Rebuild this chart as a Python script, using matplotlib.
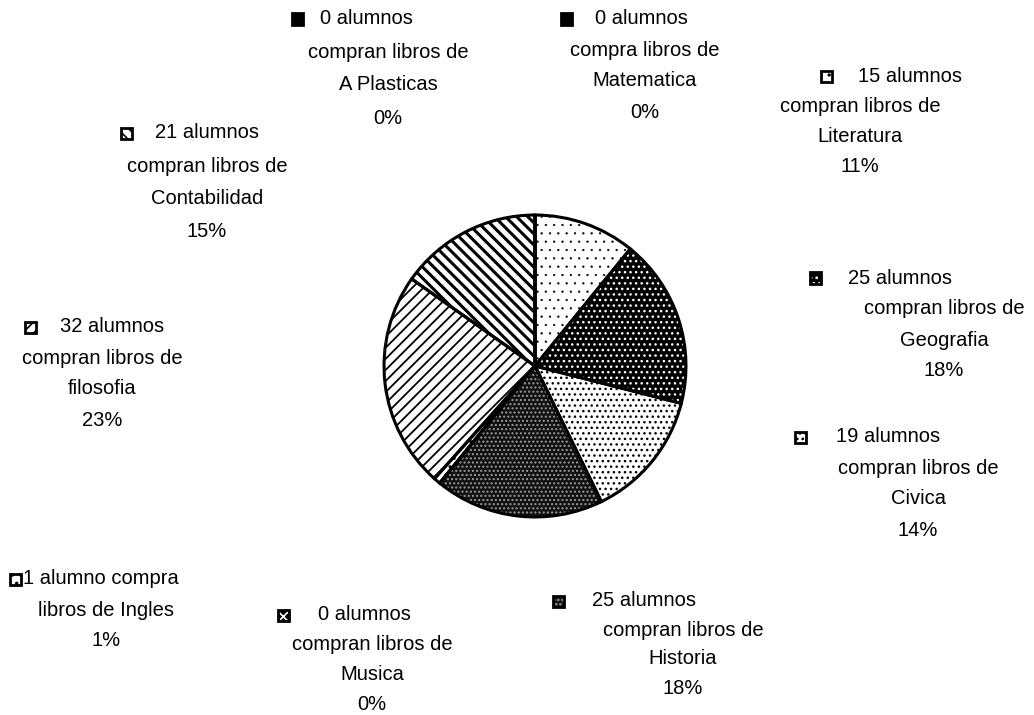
import matplotlib.pyplot as plt
from matplotlib.patches import Rectangle

plt.rcParams["font.family"] = ["Liberation Sans", "DejaVu Sans"]
plt.rcParams["hatch.linewidth"] = 1.2

# pie order: clockwise from 12 o'clock
subjects = ["Literatura", "Geografia", "Civica", "Historia", "Musica",
            "Ingles", "filosofia", "Contabilidad", "A Plasticas", "Matematica"]
alumnos = [15, 25, 19, 25, 0, 1, 32, 21, 0, 0]

faces = ["white", "black", "white", "#111111", "black",
         "white", "white", "white", "black", "black"]
hatch_cols = ["black", "white", "black", "#9a9a9a", "white",
              "black", "black", "black", "white", "white"]
hatches = ["..", "...", "...", "....", "x", "..", "///", "\\\\\\", "/", ""]
hatch_lw = [0.4, 1.0, 1.0, 1.0, 1.5, 1.0, 1.3, 2.2, 2.0, 1.0]

total = sum(alumnos)
pcts = [round(100 * a / total) for a in alumnos]


def label_lines(i):
    n, s, p = alumnos[i], subjects[i], pcts[i]
    if n == 1:
        return [f"{n} alumno compra", f"libros de {s}", f"{p}%"]
    verb = "compra" if s == "Matematica" else "compran"
    return [f"{n} alumnos", f"{verb} libros de", s, f"{p}%"]


# label layout in pixels: marker x, first-line text left, centre x, first-line y, line step
layout = {
    "Literatura":   (826, 858, 860, 76, 30),
    "Geografia":    (815, 848, 944, 278, 31),
    "Civica":       (800, 836, 918, 437, 31),
    "Historia":     (558, 592, 683, 601, 29),
    "Musica":       (283, 318, 372, 615, 30),
    "Ingles":       (15, 23, 106, 579, 31),
    "filosofia":    (30, 60, 102, 327, 31),
    "Contabilidad": (126, 155, 207, 133, 33),
    "A Plasticas":  (297, 320, 388, 19, 33),
    "Matematica":   (566, 595, 645, 19, 31),
}

W, H = 1034, 715
fig = plt.figure(figsize=(W / 100, H / 100), dpi=100)
fig.patch.set_facecolor("white")

cx, cy, r = 535, 366, 154
ax = fig.add_axes([(cx - r) / W, 1 - (cy + r) / H, 2 * r / W, 2 * r / H])
wedges, _ = ax.pie(alumnos, startangle=90, counterclock=False)
for w, fc, hc, h, hl in zip(wedges, faces, hatch_cols, hatches, hatch_lw):
    w.set_facecolor(fc)
    w.set_edgecolor(hc)
    w.set_hatch(h)
    w.set_linewidth(0)
    if hasattr(w, "set_hatch_linewidth"):
        w.set_hatch_linewidth(hl)
# outlines drawn on top
ax.pie(alumnos, startangle=90, counterclock=False,
       wedgeprops=dict(fill=False, edgecolor="black", linewidth=2.2))
ax.set_xlim(-1.02, 1.02)
ax.set_ylim(-1.02, 1.02)

fs = 14.5
ms = 11
for i, s in enumerate(subjects):
    mx, tx, lx, y0, step = layout[s]
    lines = label_lines(i)
    xy = ((mx - ms / 2) / W, 1 - (y0 + ms / 2) / H)
    box = Rectangle(xy, ms / W, ms / H, transform=fig.transFigure,
                    facecolor=faces[i], edgecolor=hatch_cols[i],
                    hatch=hatches[i], linewidth=0)
    fig.add_artist(box)
    fig.add_artist(Rectangle(xy, ms / W, ms / H, transform=fig.transFigure,
                             fill=False, edgecolor="black", linewidth=2))
    fig.text(tx / W, 1 - y0 / H, lines[0], ha="left", va="center", fontsize=fs)
    for k, line in enumerate(lines[1:], start=1):
        fig.text(lx / W, 1 - (y0 + k * step) / H, line,
                 ha="center", va="center", fontsize=fs)

fig.savefig("out.png", dpi=100)
